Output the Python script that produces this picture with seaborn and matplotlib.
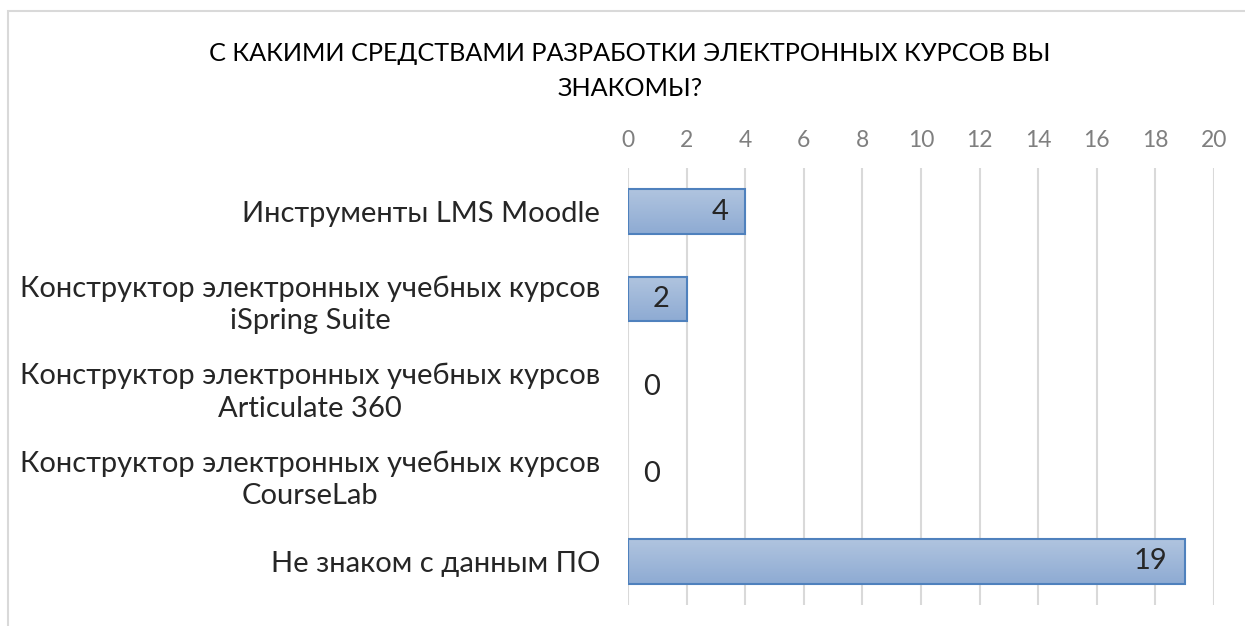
import numpy as np
import pandas as pd
import matplotlib.pyplot as plt
import seaborn as sns
from matplotlib.patches import Rectangle
from matplotlib.colors import LinearSegmentedColormap

# данные с картинки
categories = [
    "Инструменты LMS Moodle",
    "Конструктор электронных учебных курсов\niSpring Suite",
    "Конструктор электронных учебных курсов\nArticulate 360",
    "Конструктор электронных учебных курсов\nCourseLab",
    "Не знаком с данным ПО",
]
counts = [4, 2, 0, 0, 19]
x_ticks = list(range(0, 21, 2))
title = "С КАКИМИ СРЕДСТВАМИ РАЗРАБОТКИ ЭЛЕКТРОННЫХ КУРСОВ ВЫ\nЗНАКОМЫ?"

df = pd.DataFrame({"cat": categories, "n": counts})

sns.set_style("white")
plt.rcParams["font.family"] = ["Lato", "DejaVu Sans"]

fig = plt.figure(figsize=(12.45, 6.26), dpi=100)
ax = fig.add_axes([0.5044, 0.0335, 0.4707, 0.698])

sns.barplot(data=df, x="n", y="cat", orient="h", color="#9db5d9",
            width=0.51, edgecolor="#4f81bd", linewidth=1.5, ax=ax, zorder=3)

# градиент внутри столбиков
grad = LinearSegmentedColormap.from_list("g", ["#b0c4df", "#8eabd3"])
for p in ax.patches:
    if p.get_width() <= 0:
        p.set_visible(False)
        continue
    x0, y0 = p.get_x(), p.get_y()
    w, h = p.get_width(), p.get_height()
    im = ax.imshow(np.linspace(0, 1, 64).reshape(-1, 1), cmap=grad, aspect="auto",
                   extent=[x0, x0 + w, y0 + h, y0], zorder=3.5, interpolation="bicubic")
    im.set_clip_path(p)
    p.set_facecolor("none")
    p.set_zorder(4)

ax.set_xlim(0, 20)
ax.set_ylim(len(categories) - 0.5, -0.5)
ax.set_xticks(x_ticks)
ax.xaxis.tick_top()
ax.tick_params(axis="x", length=0, labelsize=16.5, labelcolor="#7f7f7f", pad=12)
ax.tick_params(axis="y", length=0, labelsize=21, pad=20)
for lbl in ax.get_yticklabels():
    lbl.set_multialignment("center")
    lbl.set_linespacing(1.3)
ax.grid(axis="x", color="#d9d9d9", linewidth=1.5, zorder=0)
ax.grid(axis="y", visible=False)
for s in ax.spines.values():
    s.set_visible(False)
ax.set_xlabel("")
ax.set_ylabel("")

for i, v in enumerate(counts):
    if v > 0:
        ax.annotate(str(v), (v, i), xytext=(-17, 0), textcoords="offset pixels",
                    ha="right", va="center", fontsize=21, zorder=6)
    else:
        ax.annotate(str(v), (v, i), xytext=(15, 0), textcoords="offset pixels",
                    ha="left", va="center", fontsize=21, zorder=6)

fig.text(0.506, 0.887, title, ha="center", va="center", fontsize=18.2,
         color="black", linespacing=1.62)

# рамка диаграммы
fig.patches.append(Rectangle((8 / 1245, -0.05), 1.1, 1 - 11 / 626 + 0.05,
                             transform=fig.transFigure, fill=False,
                             edgecolor="#d9d9d9", linewidth=1.5))

fig.savefig("out.png", dpi=100)
